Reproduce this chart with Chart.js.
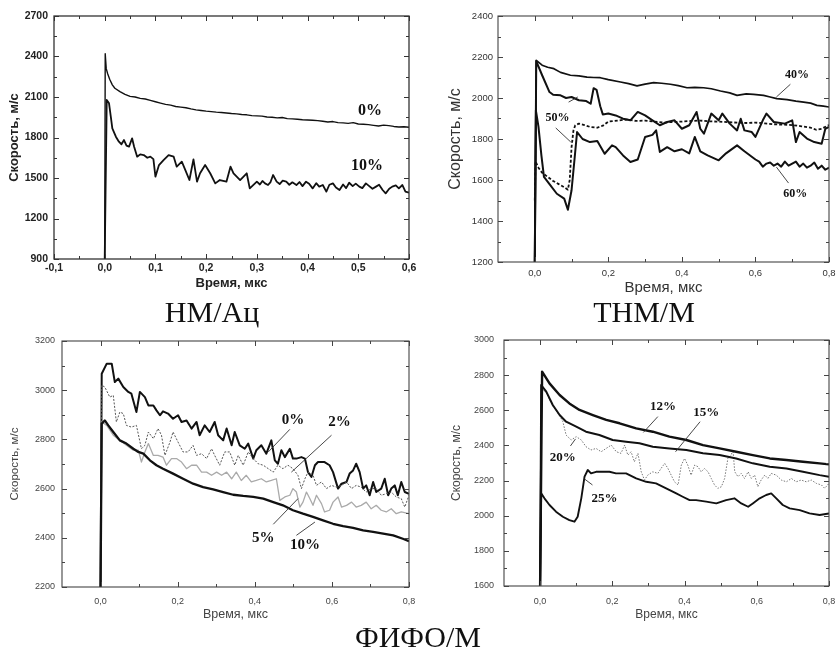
<!DOCTYPE html>
<html><head><meta charset="utf-8">
<script src="https://cdn.jsdelivr.net/npm/chart.js@4.4.1/dist/chart.umd.min.js"></script>
<style>
body{margin:0;background:#fff;width:838px;height:651px;position:relative;overflow:hidden}
canvas{position:absolute}
.cap{position:absolute;width:200px;text-align:center;font-family:"Liberation Serif","Times New Roman",serif;font-size:30px;line-height:30px;color:#111;z-index:2;white-space:nowrap}
</style></head><body>
<canvas id="c1" width="420" height="300" style="left:0;top:0"></canvas>
<canvas id="c2" width="418" height="300" style="left:420px;top:0"></canvas>
<canvas id="c3" width="420" height="305" style="left:0;top:325px"></canvas>
<canvas id="c4" width="418" height="305" style="left:420px;top:325px"></canvas>
<div class="cap" style="left:112px;top:297px">НМ/Ац</div>
<div class="cap" style="left:544px;top:297px">ТНМ/М</div>
<div class="cap" style="left:318px;top:622px">ФИФО/М</div>
<script>
// ---------- tick labels ----------
const xTicks1 = [-0.1, 0, 0.1, 0.2, 0.3, 0.4, 0.5, 0.6];
const yTicks1 = [900, 1200, 1500, 1800, 2100, 2400, 2700];
const xTicks234 = [0, 0.2, 0.4, 0.6, 0.8];
const yTicks2 = [1200, 1400, 1600, 1800, 2000, 2200, 2400];
const yTicks3 = [2200, 2400, 2600, 2800, 3000, 3200];
const yTicks4 = [1600, 1800, 2000, 2200, 2400, 2600, 2800, 3000];

// ---------- НМ/Ац ----------
const t1_0 = [0, 0.001, 0.003, 0.006, 0.01, 0.015, 0.02, 0.03, 0.04, 0.05, 0.06, 0.07, 0.08, 0.09, 0.1, 0.11, 0.12, 0.13, 0.14, 0.15, 0.16, 0.17, 0.18, 0.19, 0.2,
  0.21, 0.22, 0.23, 0.24, 0.25, 0.26, 0.27, 0.28, 0.29, 0.3, 0.31, 0.32, 0.33, 0.34, 0.35, 0.36, 0.37, 0.38, 0.39, 0.4,
  0.41, 0.42, 0.43, 0.44, 0.45, 0.46, 0.47, 0.48, 0.49, 0.5, 0.51, 0.52, 0.53, 0.54, 0.55, 0.56, 0.57, 0.58, 0.59, 0.6];
const v1_0 = [900, 2420, 2310, 2270, 2230, 2190, 2165, 2140, 2120, 2105, 2100, 2090, 2085, 2075, 2065, 2055, 2045, 2040, 2030, 2025, 2020, 2012, 2005, 2000, 1995,
  1992, 1988, 1985, 1982, 1978, 1975, 1970, 1968, 1962, 1960, 1958, 1952, 1950, 1945, 1948, 1940, 1938, 1935, 1932, 1930,
  1928, 1925, 1920, 1915, 1918, 1910, 1908, 1905, 1910, 1900, 1898, 1895, 1890, 1885, 1892, 1888, 1882, 1878, 1880, 1876];
const t1_10 = [0, 0.004, 0.0085, 0.012, 0.015, 0.022, 0.028, 0.033, 0.038, 0.043, 0.048, 0.054, 0.058, 0.064, 0.07, 0.077, 0.084, 0.09, 0.096, 0.1,
  0.107, 0.116, 0.126, 0.136, 0.142, 0.152, 0.159, 0.167, 0.175, 0.182, 0.188, 0.198, 0.208, 0.218, 0.227, 0.24, 0.248, 0.254, 0.267, 0.28,
  0.286, 0.3, 0.306, 0.311, 0.316, 0.322, 0.327, 0.332, 0.339, 0.345, 0.351, 0.358, 0.364, 0.37, 0.378, 0.384, 0.39, 0.397, 0.403, 0.41,
  0.417, 0.423, 0.43, 0.437, 0.443, 0.45, 0.456, 0.463, 0.47, 0.476, 0.482, 0.489, 0.495, 0.502, 0.508, 0.515, 0.521, 0.528, 0.535, 0.541,
  0.548, 0.554, 0.561, 0.567, 0.574, 0.58, 0.587, 0.593, 0.6];
const v1_10 = [900, 2078, 2053, 1954, 1868, 1806, 1769, 1750, 1781, 1740, 1732, 1794, 1732, 1658, 1675, 1670, 1650, 1658, 1640, 1510,
  1596, 1633, 1670, 1658, 1584, 1621, 1559, 1485, 1638, 1473, 1535, 1596, 1535, 1460, 1485, 1473, 1584, 1535, 1485, 1535,
  1423, 1473, 1452, 1478, 1460, 1448, 1470, 1522, 1473, 1455, 1480, 1473, 1450, 1468, 1448, 1470, 1440, 1473, 1458, 1423,
  1462, 1436, 1448, 1399, 1450, 1460, 1430, 1411, 1452, 1425, 1465, 1440, 1458, 1436, 1425, 1460, 1442, 1420, 1436, 1450,
  1411, 1386, 1420, 1436, 1445, 1423, 1448, 1399, 1391];

// ---------- ТНМ/М ----------
const t2_40 = [0, 0.004, 0.02, 0.035, 0.052, 0.07, 0.097, 0.12, 0.142, 0.16, 0.178, 0.2, 0.233, 0.255, 0.278, 0.3, 0.323, 0.345, 0.369, 0.39,
  0.414, 0.435, 0.459, 0.48, 0.505, 0.53, 0.55, 0.575, 0.595, 0.622, 0.64, 0.658, 0.686, 0.71, 0.731, 0.75, 0.767, 0.785, 0.8];
const v2_40 = [1200, 2184, 2160, 2150, 2143, 2125, 2111, 2108, 2102, 2100, 2099, 2090, 2078, 2070, 2059, 2068, 2075, 2072, 2067, 2060,
  2050, 2052, 2050, 2045, 2034, 2025, 2013, 2020, 2018, 2013, 2005, 1997, 1992, 1985, 1980, 1975, 1964, 1960, 1956];
const t2_50a = [0, 0.004, 0.02, 0.04, 0.05, 0.07, 0.085, 0.1, 0.12, 0.14, 0.152, 0.16, 0.168, 0.178, 0.185, 0.2, 0.22, 0.24, 0.26, 0.28, 0.3,
  0.32, 0.34, 0.36, 0.38, 0.4, 0.42, 0.44, 0.45, 0.46, 0.48, 0.5, 0.51, 0.53, 0.55, 0.56, 0.57, 0.59, 0.6, 0.62, 0.63,
  0.65, 0.68, 0.7, 0.71, 0.72, 0.74, 0.76, 0.78, 0.79, 0.8];
const v2_50a = [1200, 2180, 2111, 2029, 2016, 2013, 2000, 2005, 1989, 1985, 1972, 2048, 2040, 1960, 1920, 1924, 1915, 1899, 1891, 1932, 1915,
  1891, 1867, 1883, 1891, 1850, 1867, 1932, 1850, 1826, 1924, 1891, 1924, 1875, 1842, 1899, 1842, 1834, 1810, 1891, 1924,
  1883, 1875, 1891, 1785, 1834, 1802, 1785, 1777, 1850, 1859];
const t2_50b = [0, 0.002, 0.01, 0.02, 0.035, 0.05, 0.065, 0.08, 0.09, 0.095, 0.1, 0.105, 0.11, 0.12, 0.135, 0.15, 0.17, 0.185, 0.2, 0.225,
  0.25, 0.275, 0.3, 0.325, 0.35, 0.375, 0.4, 0.425, 0.45, 0.475, 0.5, 0.525, 0.55, 0.575, 0.6, 0.625, 0.65, 0.675, 0.7, 0.725,
  0.75, 0.765, 0.78, 0.8];
const v2_50b = [1500, 1690, 1660, 1635, 1615, 1595, 1580, 1565, 1553, 1600, 1760, 1840, 1867, 1875, 1868, 1859, 1855, 1865, 1885, 1890,
  1895, 1888, 1890, 1885, 1880, 1883, 1885, 1888, 1890, 1886, 1885, 1882, 1880, 1878, 1880, 1876, 1872, 1870, 1868, 1862,
  1855, 1845, 1850, 1868];
const t2_60 = [0, 0.003, 0.01, 0.018, 0.025, 0.04, 0.06, 0.08, 0.09, 0.1, 0.108, 0.115, 0.13, 0.15, 0.17, 0.19, 0.21, 0.22, 0.24, 0.26,
  0.28, 0.3, 0.32, 0.33, 0.34, 0.36, 0.38, 0.4, 0.42, 0.435, 0.45, 0.47, 0.5, 0.52, 0.55, 0.57, 0.6, 0.61, 0.62, 0.63,
  0.64, 0.65, 0.66, 0.67, 0.68, 0.69, 0.7, 0.71, 0.72, 0.73, 0.74, 0.75, 0.76, 0.77, 0.78, 0.79, 0.8];
const v2_60 = [1200, 1940, 1860, 1720, 1615, 1580, 1533, 1509, 1455, 1550, 1700, 1834, 1800, 1785, 1790, 1728, 1769, 1760, 1720, 1688,
  1700, 1810, 1820, 1842, 1737, 1760, 1740, 1750, 1730, 1810, 1740, 1720, 1696, 1730, 1769, 1740, 1700, 1690, 1665, 1680,
  1685, 1670, 1680, 1665, 1690, 1670, 1680, 1690, 1665, 1680, 1660, 1670, 1685, 1655, 1670, 1650, 1660];

// ---------- ФИФО/М (left) ----------
const t3_0 = [0, 0.003, 0.016, 0.029, 0.037, 0.046, 0.059, 0.072, 0.08, 0.093, 0.102, 0.115, 0.124, 0.137, 0.145, 0.154, 0.162, 0.175, 0.188, 0.201,
  0.21, 0.223, 0.236, 0.249, 0.257, 0.27, 0.283, 0.296, 0.305, 0.318, 0.327, 0.34, 0.348, 0.361, 0.374, 0.383, 0.396, 0.404, 0.417, 0.43,
  0.443, 0.452, 0.46, 0.469, 0.478, 0.491, 0.499, 0.508, 0.521, 0.53, 0.538, 0.547, 0.556, 0.564, 0.581, 0.594, 0.603, 0.616, 0.625, 0.638,
  0.646, 0.655, 0.663, 0.672, 0.681, 0.689, 0.698, 0.707, 0.715, 0.728, 0.737, 0.746, 0.754, 0.763, 0.771, 0.78, 0.789, 0.8];
const v3_0 = [2200, 3067, 3108, 3108, 3033, 3047, 3013, 2993, 2986, 2911, 2993, 2972, 2938, 2938, 2918, 2898, 2914, 2905, 2884, 2898,
  2871, 2877, 2844, 2871, 2817, 2857, 2830, 2871, 2817, 2796, 2844, 2776, 2830, 2776, 2762, 2783, 2722, 2756, 2776, 2742,
  2796, 2715, 2701, 2756, 2728, 2762, 2722, 2722, 2728, 2722, 2667, 2647, 2695, 2708, 2708, 2695, 2667, 2600, 2620, 2627,
  2661, 2674, 2701, 2667, 2600, 2613, 2573, 2627, 2586, 2600, 2640, 2573, 2600, 2613, 2573, 2627, 2586, 2579];
const t3_2 = [0, 0.003, 0.011, 0.024, 0.033, 0.041, 0.05, 0.059, 0.067, 0.08, 0.093, 0.106, 0.115, 0.124, 0.137, 0.149, 0.158, 0.167, 0.18, 0.188,
  0.201, 0.214, 0.227, 0.24, 0.249, 0.262, 0.275, 0.288, 0.296, 0.309, 0.322, 0.335, 0.348, 0.357, 0.37, 0.383, 0.396, 0.409, 0.422, 0.435,
  0.448, 0.46, 0.473, 0.486, 0.499, 0.512, 0.521, 0.53, 0.538, 0.551, 0.56, 0.573, 0.586, 0.599, 0.612, 0.625, 0.638, 0.651, 0.663, 0.676,
  0.689, 0.702, 0.715, 0.728, 0.741, 0.754, 0.767, 0.78, 0.789, 0.8];
const v3_2 = [2200, 3020, 3013, 2972, 2979, 2871, 2911, 2905, 2857, 2850, 2857, 2762, 2776, 2830, 2803, 2844, 2817, 2735, 2789, 2830,
  2789, 2749, 2749, 2776, 2735, 2742, 2722, 2762, 2735, 2695, 2749, 2749, 2695, 2735, 2695, 2749, 2722, 2701, 2695, 2681,
  2667, 2695, 2681, 2695, 2681, 2654, 2600, 2640, 2667, 2654, 2613, 2627, 2600, 2613, 2606, 2613, 2627, 2600, 2613, 2606,
  2586, 2600, 2600, 2573, 2579, 2586, 2566, 2559, 2525, 2573];
const t3_5 = [0, 0.003, 0.016, 0.033, 0.05, 0.067, 0.085, 0.098, 0.106, 0.115, 0.124, 0.137, 0.149, 0.162, 0.171, 0.184, 0.197, 0.21, 0.223, 0.236,
  0.249, 0.262, 0.275, 0.288, 0.301, 0.314, 0.327, 0.34, 0.352, 0.365, 0.378, 0.391, 0.404, 0.417, 0.43, 0.443, 0.456, 0.465, 0.478, 0.491,
  0.499, 0.508, 0.517, 0.525, 0.534, 0.543, 0.551, 0.56, 0.573, 0.581, 0.594, 0.603, 0.616, 0.625, 0.638, 0.651, 0.663, 0.676, 0.689, 0.702,
  0.715, 0.728, 0.741, 0.754, 0.767, 0.78, 0.8];
const v3_5 = [2200, 2871, 2857, 2817, 2796, 2776, 2756, 2756, 2708, 2749, 2783, 2735, 2735, 2728, 2695, 2722, 2722, 2708, 2681, 2695,
  2695, 2667, 2667, 2654, 2667, 2654, 2667, 2640, 2667, 2633, 2654, 2627, 2633, 2640, 2627, 2633, 2640, 2552, 2566, 2573,
  2600, 2586, 2525, 2545, 2586, 2559, 2532, 2573, 2539, 2505, 2512, 2545, 2566, 2525, 2532, 2545, 2525, 2532, 2545, 2518,
  2532, 2512, 2505, 2518, 2498, 2505, 2498];
const t3_10 = [0, 0.003, 0.011, 0.02, 0.033, 0.05, 0.067, 0.085, 0.098, 0.111, 0.128, 0.145, 0.162, 0.188, 0.214, 0.24, 0.266, 0.292, 0.318, 0.344,
  0.37, 0.396, 0.422, 0.448, 0.473, 0.499, 0.525, 0.551, 0.577, 0.603, 0.629, 0.655, 0.681, 0.707, 0.733, 0.759, 0.784, 0.8];
const v3_10 = [2200, 2864, 2877, 2857, 2830, 2796, 2783, 2762, 2749, 2742, 2715, 2695, 2681, 2661, 2640, 2620, 2606, 2597, 2586, 2575,
  2570, 2566, 2559, 2545, 2532, 2512, 2498, 2485, 2471, 2457, 2447, 2440, 2430, 2424, 2417, 2410, 2396, 2386];

// ---------- ФИФО/М (right) ----------
const t4_12 = [0, 0.0055, 0.026, 0.054, 0.081, 0.109, 0.146, 0.183, 0.22, 0.266, 0.312, 0.358, 0.405, 0.451, 0.497, 0.543, 0.589, 0.636, 0.682, 0.728, 0.774, 0.8];
const v4_12 = [1600, 2820, 2753, 2687, 2639, 2602, 2573, 2545, 2526, 2497, 2478, 2450, 2431, 2402, 2383, 2364, 2345, 2326, 2317, 2307, 2298, 2292];
const t4_15 = [0, 0.003, 0.017, 0.035, 0.054, 0.072, 0.1, 0.127, 0.164, 0.201, 0.238, 0.275, 0.312, 0.358, 0.405, 0.451, 0.497, 0.543, 0.589, 0.636, 0.682, 0.728, 0.774, 0.8];
const v4_15 = [1600, 2744, 2706, 2630, 2573, 2535, 2507, 2478, 2459, 2431, 2421, 2412, 2393, 2383, 2374, 2355, 2345, 2326, 2298, 2279, 2269, 2250, 2231, 2222];
const t4_20 = [0.003, 0.017, 0.035, 0.054, 0.063, 0.072, 0.086, 0.1, 0.114, 0.127, 0.141, 0.155, 0.169, 0.183, 0.197, 0.211, 0.224, 0.234, 0.243, 0.252,
  0.261, 0.271, 0.28, 0.289, 0.298, 0.312, 0.326, 0.335, 0.345, 0.354, 0.363, 0.372, 0.382, 0.391, 0.4, 0.409, 0.418, 0.428, 0.437, 0.446,
  0.455, 0.465, 0.474, 0.483, 0.492, 0.502, 0.511, 0.52, 0.529, 0.534, 0.539, 0.548, 0.557, 0.566, 0.576, 0.585, 0.594, 0.603, 0.612, 0.622,
  0.631, 0.64, 0.654, 0.668, 0.682, 0.696, 0.709, 0.723, 0.737, 0.751, 0.765, 0.779, 0.788, 0.8];
const v4_20 = [2725, 2700, 2625, 2570, 2535, 2459, 2431, 2450, 2431, 2393, 2374, 2383, 2364, 2383, 2402, 2364, 2355, 2402, 2345, 2364,
  2307, 2355, 2250, 2203, 2231, 2250, 2241, 2269, 2298, 2269, 2231, 2193, 2175, 2288, 2326, 2288, 2231, 2288, 2279, 2250,
  2269, 2250, 2212, 2175, 2156, 2165, 2212, 2326, 2345, 2374, 2250, 2222, 2241, 2212, 2250, 2212, 2231, 2165, 2203, 2231,
  2212, 2241, 2231, 2203, 2193, 2212, 2193, 2203, 2193, 2203, 2184, 2175, 2156, 2184];
const t4_25 = [0, 0.003, 0.012, 0.026, 0.044, 0.063, 0.081, 0.095, 0.104, 0.114, 0.123, 0.132, 0.141, 0.155, 0.174, 0.192, 0.21, 0.238, 0.266, 0.294,
  0.321, 0.349, 0.377, 0.395, 0.414, 0.432, 0.46, 0.488, 0.515, 0.538, 0.557, 0.576, 0.589, 0.608, 0.626, 0.64, 0.654, 0.672, 0.691, 0.719,
  0.746, 0.774, 0.8];
const v4_25 = [1600, 2127, 2099, 2061, 2023, 1994, 1975, 1966, 1994, 2099, 2222, 2260, 2241, 2250, 2250, 2250, 2241, 2241, 2212, 2193,
  2184, 2156, 2127, 2108, 2089, 2089, 2080, 2070, 2089, 2099, 2070, 2051, 2070, 2099, 2118, 2127, 2099, 2061, 2042, 2032,
  2013, 2004, 2013];

// ---------- annotations (data units) ----------
const labels1 = [{t: '0%', x: 0.523, y: 1996}, {t: '10%', x: 0.517, y: 1589}];
const leaders1 = [];
const labels2 = [{t: '40%', x: 0.713, y: 2115}, {t: '50%', x: 0.062, y: 1905}, {t: '60%', x: 0.708, y: 1533}];
const leaders2 = [[0.695, 2067, 0.657, 2005], [0.092, 1980, 0.117, 2005], [0.057, 1854, 0.098, 1785], [0.690, 1585, 0.657, 1663]];
const labels3 = [{t: '0%', x: 0.499, y: 2878}, {t: '2%', x: 0.620, y: 2871}, {t: '5%', x: 0.422, y: 2399}, {t: '10%', x: 0.530, y: 2369}];
const leaders3 = [[0.491, 2841, 0.435, 2749], [0.599, 2817, 0.495, 2667], [0.448, 2455, 0.512, 2559], [0.508, 2410, 0.556, 2464]];
const labels4 = [{t: '12%', x: 0.340, y: 2620}, {t: '15%', x: 0.460, y: 2588}, {t: '20%', x: 0.063, y: 2330}, {t: '25%', x: 0.178, y: 2099}];
const leaders4 = [[0.326, 2564, 0.286, 2474], [0.443, 2535, 0.375, 2364], [0.084, 2397, 0.098, 2437], [0.145, 2175, 0.123, 2209]];

// ---------- helpers ----------
const zip = (t, v) => t.map((x, i) => ({x: x, y: v[i]}));
const fmtX = v => Number(v).toFixed(1).replace('.', ',');

const frameTicks = {
  id: 'frameTicks',
  afterDraw(chart, args, o) {
    const {ctx, chartArea: a, scales: {x, y}} = chart;
    ctx.save();
    ctx.strokeStyle = o.color; ctx.lineWidth = o.width;
    ctx.strokeRect(a.left, a.top, a.right - a.left, a.bottom - a.top);
    ctx.lineWidth = o.tickWidth;
    const mids = arr => arr.slice(1).map((v, i) => (v + arr[i]) / 2);
    const drawX = (vals, len) => vals.forEach(v => {
      const p = Math.round(x.getPixelForValue(v)) + 0.5;
      if (p < a.left - 1 || p > a.right + 1) return;
      ctx.beginPath(); ctx.moveTo(p, a.bottom); ctx.lineTo(p, a.bottom - len);
      ctx.moveTo(p, a.top); ctx.lineTo(p, a.top + len); ctx.stroke();
    });
    const drawY = (vals, len) => vals.forEach(v => {
      const p = Math.round(y.getPixelForValue(v)) + 0.5;
      ctx.beginPath(); ctx.moveTo(a.left, p); ctx.lineTo(a.left + len, p);
      ctx.moveTo(a.right, p); ctx.lineTo(a.right - len, p); ctx.stroke();
    });
    drawX(o.xMajor, 5); drawX(mids(o.xMajor), 3);
    drawY(o.yMajor, 5); drawY(mids(o.yMajor), 3);
    ctx.restore();
  }
};

const annots = {
  id: 'annots',
  afterDraw(chart, args, o) {
    const {ctx, scales: {x, y}} = chart;
    ctx.save();
    ctx.strokeStyle = '#333'; ctx.lineWidth = 0.9;
    (o.leaders || []).forEach(l => {
      ctx.beginPath();
      ctx.moveTo(x.getPixelForValue(l[0]), y.getPixelForValue(l[1]));
      ctx.lineTo(x.getPixelForValue(l[2]), y.getPixelForValue(l[3]));
      ctx.stroke();
    });
    ctx.fillStyle = '#111';
    ctx.font = 'bold ' + o.size + 'px "Liberation Serif", "Times New Roman", serif';
    ctx.textAlign = 'center'; ctx.textBaseline = 'middle';
    (o.labels || []).forEach(l => ctx.fillText(l.t, x.getPixelForValue(l.x), y.getPixelForValue(l.y)));
    ctx.restore();
  }
};

function makeChart(id, c) {
  const el = document.getElementById(id);
  const W = el.width, H = el.height;
  return new Chart(el, {
    type: 'line',
    data: {
      datasets: c.series.map(s => ({
        data: zip(s.t, s.v), borderColor: s.color, borderWidth: s.w, borderDash: s.dash || [],
        pointRadius: 0, fill: false, tension: 0, borderJoinStyle: 'round'
      }))
    },
    options: {
      responsive: false, animation: false, devicePixelRatio: 1,
      layout: {padding: {top: c.area.top, right: W - c.area.right, left: 0, bottom: 0}},
      plugins: {
        legend: {display: false}, tooltip: {enabled: false},
        frameTicks: {xMajor: c.xTicks, yMajor: c.yTicks, color: c.frameColor, width: c.frameWidth, tickWidth: 1},
        annots: {labels: c.labels, leaders: c.leaders, size: c.labelSize}
      },
      scales: {
        x: {
          type: 'linear', min: c.xMin, max: c.xMax,
          grid: {display: false, drawTicks: false}, border: {display: false},
          afterBuildTicks: s => { s.ticks = c.xTicks.map(v => ({value: v})); },
          afterFit: s => { s.height = H - c.area.bottom; s.paddingLeft = 0; s.paddingRight = 0; },
          ticks: {padding: c.xTickPad, autoSkip: false, maxRotation: 0, color: c.textColor,
                  font: {family: 'Liberation Sans, Arial', size: c.tickSize, weight: c.weight},
                  callback: v => fmtX(v)},
          title: {display: true, text: 'Время, мкс', color: c.textColor,
                  font: {family: 'Liberation Sans, Arial', size: c.xTitleSize, weight: c.weight},
                  padding: {top: 0, bottom: c.xTitlePad}}
        },
        y: {
          min: c.yMin, max: c.yMax,
          grid: {display: false, drawTicks: false}, border: {display: false},
          afterBuildTicks: s => { s.ticks = c.yTicks.map(v => ({value: v})); },
          afterFit: s => { s.width = c.area.left; s.paddingTop = 0; s.paddingBottom = 0; },
          ticks: {padding: c.yTickPad, autoSkip: false, color: c.textColor,
                  font: {family: 'Liberation Sans, Arial', size: c.tickSize, weight: c.weight},
                  callback: v => String(v)},
          title: {display: true, text: 'Скорость, м/с', color: c.textColor,
                  font: {family: 'Liberation Sans, Arial', size: c.yTitleSize, weight: c.weight},
                  padding: {top: c.yTitlePad, bottom: 0}}
        }
      }
    },
    plugins: [frameTicks, annots]
  });
}

const K = '#111';
makeChart('c1', {
  area: {left: 54, right: 409, top: 16, bottom: 259},
  xMin: -0.1, xMax: 0.6, yMin: 900, yMax: 2700, xTicks: xTicks1, yTicks: yTicks1,
  series: [{t: t1_0, v: v1_0, color: K, w: 1.4}, {t: t1_10, v: v1_10, color: K, w: 1.8}],
  labels: labels1, leaders: leaders1, labelSize: 16,
  weight: 'bold', textColor: '#222', tickSize: 10.5, xTitleSize: 13, yTitleSize: 13,
  xTickPad: 3, xTitlePad: 9, yTickPad: 6, yTitlePad: 7, frameColor: '#333', frameWidth: 1.3
});
makeChart('c2', {
  area: {left: 78, right: 409, top: 16, bottom: 262},
  xMin: -0.1, xMax: 0.8, yMin: 1200, yMax: 2400, xTicks: xTicks234, yTicks: yTicks2,
  series: [{t: t2_40, v: v2_40, color: K, w: 1.7}, {t: t2_50a, v: v2_50a, color: K, w: 2},
           {t: t2_50b, v: v2_50b, color: K, w: 1.8, dash: [3, 2]}, {t: t2_60, v: v2_60, color: K, w: 2}],
  labels: labels2, leaders: leaders2, labelSize: 12,
  weight: 'normal', textColor: '#333', tickSize: 9.5, xTitleSize: 15, yTitleSize: 16,
  xTickPad: 6, xTitlePad: 3, yTickPad: 5, yTitlePad: 26, frameColor: '#444', frameWidth: 1.1
});
makeChart('c3', {
  area: {left: 62, right: 409, top: 16, bottom: 262},
  xMin: -0.1, xMax: 0.8, yMin: 2200, yMax: 3200, xTicks: xTicks234, yTicks: yTicks3,
  series: [{t: t3_10, v: v3_10, color: K, w: 2.3}, {t: t3_5, v: v3_5, color: '#aaa', w: 1.3},
           {t: t3_2, v: v3_2, color: '#555', w: 1, dash: [2, 1.5]}, {t: t3_0, v: v3_0, color: K, w: 2}],
  labels: labels3, leaders: leaders3, labelSize: 15,
  weight: 'normal', textColor: '#444', tickSize: 9, xTitleSize: 12.5, yTitleSize: 11.5,
  xTickPad: 9.5, xTitlePad: 7.5, yTickPad: 7, yTitlePad: 8, frameColor: '#444', frameWidth: 1.1
});
makeChart('c4', {
  area: {left: 84, right: 409, top: 15, bottom: 261},
  xMin: -0.1, xMax: 0.8, yMin: 1600, yMax: 3000, xTicks: xTicks234, yTicks: yTicks4,
  series: [{t: t4_12, v: v4_12, color: K, w: 2.4}, {t: t4_15, v: v4_15, color: K, w: 2},
           {t: t4_20, v: v4_20, color: '#777', w: 1, dash: [1.5, 1.5]}, {t: t4_25, v: v4_25, color: K, w: 1.9}],
  labels: labels4, leaders: leaders4, labelSize: 13,
  weight: 'normal', textColor: '#444', tickSize: 9, xTitleSize: 12, yTitleSize: 12,
  xTickPad: 10.5, xTitlePad: 7.8, yTickPad: 10, yTitlePad: 29.5, frameColor: '#444', frameWidth: 1.1
});
</script>
</body></html>
